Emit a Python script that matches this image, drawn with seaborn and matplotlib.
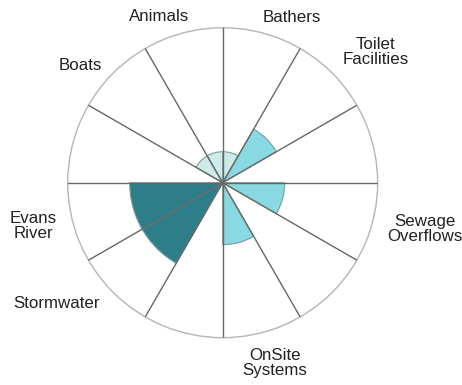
import numpy as np
import pandas as pd
import matplotlib
matplotlib.use("Agg")
import matplotlib.pyplot as plt
import seaborn as sns

# Sources of contamination, clockwise from north, one 30 degree sector each
sources = ["Bathers", "Toilet\nFacilities", "", "Sewage\nOverflows", "",
           "OnSite\nSystems", "", "Stormwater", "Evans\nRiver", "",
           "Boats", "Animals"]
risk = [1, 2, 0, 2, 0, 2, 0, 3, 3, 0, 1, 1]
levels = ["Low", "Moderate", "None", "Moderate", "None", "Moderate", "None",
          "High", "High", "None", "Low", "Low"]

palette = {"None": "#ffffff", "Low": "#cdebe8", "Moderate": "#89d9e2",
           "High": "#2e7e8a"}

# label placement (angle in degrees, radius in data units)
label_pos = {
    "Bathers": (22.7, 5.79),
    "Toilet\nFacilities": (49.5, 6.50),
    "Sewage\nOverflows": (102.9, 6.69),
    "OnSite\nSystems": (163.8, 6.06),
    "Stormwater": (234.0, 6.61),
    "Evans\nRiver": (257.1, 6.28),
    "Boats": (309.5, 5.97),
    "Animals": (339.0, 5.73),
}

step = 2 * np.pi / len(sources)
df = pd.DataFrame({
    "theta": np.arange(len(sources)) * step + step / 2,
    "risk": risk,
    "level": levels,
})

sns.set_style("white")
plt.rcParams["font.family"] = ["Liberation Sans", "DejaVu Sans"]

fig = plt.figure(figsize=(4.62, 3.85), dpi=100)
ax = fig.add_axes([0.1465, 0.1229, 0.671, 0.805], projection="polar")
ax.set_theta_zero_location("N")
ax.set_theta_direction(-1)

sns.barplot(data=df, x="theta", y="risk", hue="level", palette=palette,
            native_scale=True, width=1.0, dodge=False, legend=False,
            saturation=1, edgecolor="#7a9c9f", linewidth=0.8, ax=ax)

ax.set_ylim(0, 5)
ax.set_xlim(0, 2 * np.pi)
ax.set_xlabel("")
ax.set_ylabel("")
ax.set_yticks([])
ax.set_xticks(np.arange(len(sources)) * step)
ax.set_xticklabels([])
ax.tick_params(axis="x", length=0)
ax.set_axisbelow(False)
ax.xaxis.grid(True, color="#666666", linewidth=1.0)
ax.yaxis.grid(False)
ax.spines["polar"].set_color("#b5b5b5")
ax.spines["polar"].set_linewidth(1.0)

for name, (ang, r) in label_pos.items():
    ax.text(np.deg2rad(ang), r, name, ha="center", va="center",
            fontsize=12.2, color="#222222", linespacing=1.0,
            multialignment="center", clip_on=False)

plt.savefig("out.png", dpi=100)
